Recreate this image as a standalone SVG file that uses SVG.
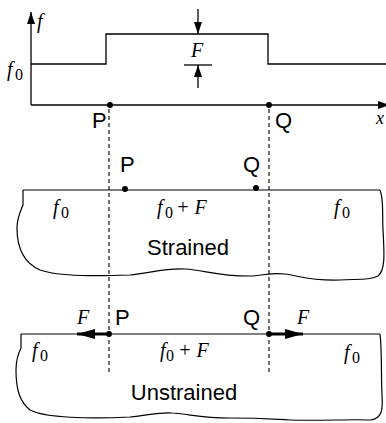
<svg xmlns="http://www.w3.org/2000/svg" width="386" height="423" viewBox="0 0 386 423">
<style>
.ln{fill:none;stroke:#000;stroke-width:1.3}
.ol{fill:none;stroke:#000;stroke-width:1.2}
.dash{fill:none;stroke:#000;stroke-width:1.1;stroke-dasharray:4 3}
.thick{fill:none;stroke:#000;stroke-width:3}
.it{font-family:"Liberation Serif",serif;font-style:italic;font-size:20px;fill:#000}
.sub{font-family:"Liberation Serif",serif;font-size:16px;fill:#000}
.sf{font-family:"Liberation Sans",Arial,sans-serif;font-size:22px;fill:#000}
</style>
<defs>
<marker id="ah" viewBox="0 0 12 8" refX="12" refY="4" markerWidth="12" markerHeight="8" markerUnits="userSpaceOnUse" orient="auto"><path d="M0,0 L12,4 L0,8 Z" fill="#000"/></marker>
<marker id="ahb" viewBox="0 0 18 10" refX="18" refY="5" markerWidth="18" markerHeight="10" markerUnits="userSpaceOnUse" orient="auto"><path d="M0,0 L18,5 L0,10 Z" fill="#000"/></marker>
</defs>

<g id="graph">
<line class="ln" x1="31" y1="105" x2="31" y2="12" marker-end="url(#ah)"/>
<line class="ln" x1="31" y1="105" x2="390" y2="105" marker-end="url(#ah)"/>
<polyline class="ln" points="31,64 106,64 106,34 268,34 268,64 386,64"/>
<text class="it" x="37" y="28">f</text>
<text class="it" x="7" y="76">f</text><text class="sub" x="15" y="80">0</text>
<text class="it" x="376" y="124" style="font-size:18px">x</text>
</g>

<g id="F-marker">
<line class="ln" x1="198" y1="9" x2="198" y2="34" marker-end="url(#ah)"/>
<line class="ln" x1="184" y1="65" x2="212" y2="65"/>
<line class="ln" x1="198" y1="88" x2="198" y2="65" marker-end="url(#ah)"/>
<text class="it" x="197" y="57" text-anchor="middle">F</text>
</g>

<g id="P-top"><circle cx="110" cy="105" r="3"/><text class="sf" x="92" y="128">P</text></g>
<g id="Q-top"><circle cx="269" cy="105" r="3"/><text class="sf" x="275" y="128">Q</text></g>

<g id="connectors">
<line class="dash" x1="109" y1="109" x2="109" y2="372"/>
<line class="dash" x1="269" y1="109" x2="269" y2="372"/>
</g>

<g id="strained">
<path class="ol" d="M23,190 L380,190"/>
<path class="ol" d="M23,190 L23,205 C20,212 17,218 17,228 C17,245 22,262 40,270 C60,277 100,276 130,275 C150,273 165,268 185,269 C205,270 215,276 250,276 C262,276 270,272 285,274 C300,276 310,281 340,280 C360,279 370,280 378,276 C386,270 384,250 383,230 C382,210 384,200 380,190"/>
<circle cx="125" cy="189" r="3"/>
<circle cx="256" cy="188" r="3"/>
<text class="sf" x="120" y="172">P</text>
<text class="sf" x="243" y="172">Q</text>
<text class="it" x="53" y="214">f</text><text class="sub" x="61" y="218">0</text>
<text class="it" x="157" y="214">f</text><text class="sub" x="165" y="218">0</text><text class="it" x="176" y="214">+ F</text>
<text class="it" x="334" y="214">f</text><text class="sub" x="342" y="218">0</text>
<text class="sf" x="188" y="255" text-anchor="middle">Strained</text>
</g>

<g id="unstrained">
<path class="ol" d="M21,334 L380,334"/>
<path class="ol" d="M21,334 L21,348 C18,354 16,360 16,370 C16,390 20,402 30,410 C45,418 90,419 130,417 C150,415 160,412 172,413 C190,414 200,418 230,418 C260,418 270,419 290,420 C320,421 350,419 370,420 C382,419 383,410 382,395 C381,375 382,350 380,334"/>
<circle cx="109" cy="334" r="3"/>
<circle cx="269" cy="334" r="3"/>
<line class="thick" x1="109" y1="334" x2="77" y2="334" marker-end="url(#ahb)"/>
<line class="thick" x1="269" y1="334" x2="303" y2="334" marker-end="url(#ahb)"/>
<text class="it" x="77" y="324">F</text>
<text class="sf" x="115" y="325">P</text>
<text class="sf" x="243" y="325">Q</text>
<text class="it" x="297" y="324">F</text>
<text class="it" x="32" y="357">f</text><text class="sub" x="40" y="361">0</text>
<text class="it" x="160" y="357">f</text><text class="sub" x="166" y="361">0</text><text class="it" x="178" y="357">+ F</text>
<text class="it" x="344" y="359">f</text><text class="sub" x="352" y="363">0</text>
<text class="sf" x="184" y="400" text-anchor="middle">Unstrained</text>
</g>
</svg>
